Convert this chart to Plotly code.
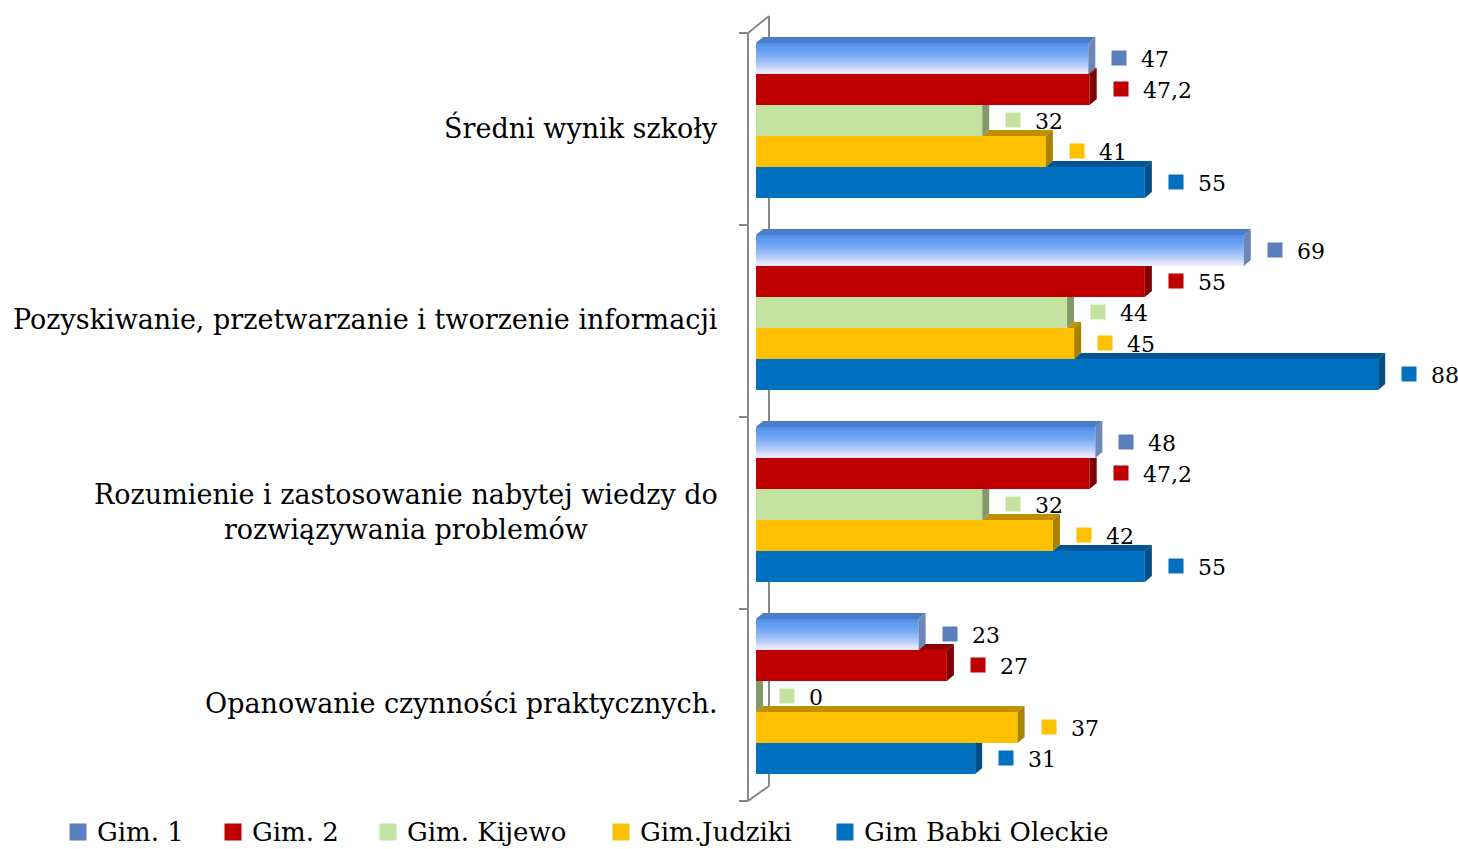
import plotly.graph_objects as go

# ---------------- data ----------------
categories = [
    "Średni wynik szkoły",
    "Pozyskiwanie, przetwarzanie i tworzenie informacji",
    "Rozumienie i zastosowanie nabytej wiedzy do<br>rozwiązywania problemów",
    "Opanowanie czynności praktycznych.",
]
series_names = ["Gim. 1", "Gim. 2", "Gim. Kijewo", "Gim.Judziki", "Gim Babki Oleckie"]
gim1 = [47, 69, 48, 23]
gim2 = [47.2, 55, 47.2, 27]
kijewo = [32, 44, 32, 0]
judziki = [41, 45, 42, 37]
babki = [55, 88, 55, 31]
series_values = [gim1, gim2, kijewo, judziki, babki]

# ---------------- styles ----------------
front_colors = ["#6FA3F0", "#C00000", "#C4E3A0", "#FFC000", "#0070C0"]
side_colors = ["#6B88B8", "#7E0000", "#82996A", "#A88300", "#004E86"]
top_colors = ["#4A7DC6", "#8E0000", "#94AD7A", "#BF9000", "#005693"]
key_colors = ["#5A80BC", "#C00000", "#C4E3A0", "#FFC000", "#0070C0"]
FONT = "DejaVu Serif"

W, H = 1458, 849
ML, MR, MT, MB = 748, 4, 6, 44
PX_PER_X = 7.07            # pixels per value unit
X0_PX = 756                # pixel of value 0
PX_PER_Y = 192.0           # pixels per category step
Y0_PX = 120.5              # pixel of first category centre
plot_w = W - ML - MR
plot_h = H - MT - MB
x_range = [(ML - X0_PX) / PX_PER_X, (W - MR - X0_PX) / PX_PER_X]
y_range = [(H - MB - Y0_PX) / PX_PER_Y, (MT - Y0_PX) / PX_PER_Y]

bar_h = 31 / PX_PER_Y
dx = 7 / PX_PER_X
dy = 6 / PX_PER_Y
n_ser = len(series_values)


def fmt(v):
    return ("%g" % v).replace(".", ",")


def lerp_color(stops, t):
    for (t0, c0), (t1, c1) in zip(stops[:-1], stops[1:]):
        if t0 <= t <= t1:
            f = (t - t0) / (t1 - t0) if t1 > t0 else 0
            c = [round(a + (b - a) * f) for a, b in zip(c0, c1)]
            return "rgb(%d,%d,%d)" % tuple(c)
    return "rgb(%d,%d,%d)" % tuple(stops[-1][1])


fig = go.Figure()
cat_idx = list(range(len(categories)))

# front faces
grad_stops = [(0.0, (80, 140, 235)), (0.45, (125, 175, 245)),
              (0.75, (185, 208, 246)), (1.0, (246, 238, 250))]
for j, vals in enumerate(series_values):
    centers = [i + (j - (n_ser - 1) / 2) * bar_h for i in cat_idx]
    if j == 0:
        N = 14
        for k in range(N):
            t = (k + 0.5) / N
            ys = [c - bar_h / 2 + t * bar_h for c in centers]
            fig.add_trace(go.Bar(
                x=vals, y=ys, orientation="h", width=bar_h / N * 1.25,
                name=series_names[j],
                marker=dict(color=lerp_color(grad_stops, t), line=dict(width=0)),
                showlegend=False, hoverinfo="skip"))
    else:
        fig.add_trace(go.Bar(
            x=vals, y=centers, orientation="h", width=bar_h, name=series_names[j],
            marker=dict(color=front_colors[j], line=dict(width=0)),
            showlegend=False, hoverinfo="skip"))

# 3D faces (top and right side), derived from the values
for j, vals in enumerate(series_values):
    tx, ty, sx, sy = [], [], [], []
    for i in cat_idx:
        v = vals[i]
        c = i + (j - (n_ser - 1) / 2) * bar_h
        yt = c - bar_h / 2
        yb = c + bar_h / 2
        u = series_values[j - 1][i] if j > 0 else None
        if u is None:
            tx += [0, v, v + dx, dx, 0, None]
            ty += [yt, yt, yt - dy, yt - dy, yt, None]
        elif v > u:
            tx += [u, v, v + dx, u + dx, u, None]
            ty += [yt, yt, yt - dy, yt - dy, yt, None]
        if u is None or v >= u:
            sx += [v, v, v + dx, v + dx, v, None]
            sy += [yb, yt, yt - dy, yb - dy, yb, None]
        else:
            sx += [v, v, v + dx, v + dx, v, None]
            sy += [yb, yt, yt, yb - dy, yb, None]
    if tx:
        fig.add_trace(go.Scatter(x=tx, y=ty, mode="lines", fill="toself",
                                 fillcolor=top_colors[j], line=dict(width=0),
                                 showlegend=False, hoverinfo="skip"))
    fig.add_trace(go.Scatter(x=sx, y=sy, mode="lines", fill="toself",
                             fillcolor=side_colors[j], line=dict(width=0),
                             showlegend=False, hoverinfo="skip"))

annotations = []
# value labels with coloured square keys
for j, vals in enumerate(series_values):
    for i in cat_idx:
        c = i + (j - (n_ser - 1) / 2) * bar_h
        annotations.append(dict(
            x=vals[i], y=c, xref="x", yref="y", text="\u00a0", showarrow=False,
            width=14, height=14, borderpad=0, bgcolor=key_colors[j],
            xanchor="left", yanchor="middle", xshift=23, yshift=1,
            font=dict(size=6)))
        annotations.append(dict(
            x=vals[i], y=c, xref="x", yref="y", text=fmt(vals[i]), showarrow=False,
            xanchor="left", yanchor="middle", xshift=51, yshift=-1,
            font=dict(family=FONT, size=22, color="#000000")))

# category labels
for i, cat in enumerate(categories):
    annotations.append(dict(
        x=0, y=i + 7 / PX_PER_Y, xref="paper", yref="y", text=cat, showarrow=False,
        xanchor="right", yanchor="middle", align="center", xshift=-28,
        font=dict(family=FONT, size=27, color="#000000")))

# legend (drawn as keys + texts along the bottom)
legend_text_px = [95, 250, 405, 638, 862]   # pixels of legend text starts
legend_y = (H - MB - 832) / plot_h
for j, name in enumerate(series_names):
    xp = (legend_text_px[j] - ML) / plot_w
    annotations.append(dict(
        x=xp, y=legend_y, xref="paper", yref="paper", text="\u00a0", showarrow=False,
        width=16, height=16, borderpad=0, bgcolor=key_colors[j],
        xanchor="left", yanchor="middle", xshift=-26, yshift=0, font=dict(size=6)))
    annotations.append(dict(
        x=xp, y=legend_y, xref="paper", yref="paper", text=name, showarrow=False,
        xanchor="left", yanchor="middle",
        font=dict(family=FONT, size=26, color="#000000")))

# 3D wall / axis frame
wall = "#878787"
back_x = (769 - ML) / plot_w
front_top = -0.5 + 8.5 / PX_PER_Y
front_bot = len(categories) - 0.5 + 8.5 / PX_PER_Y
back_top = front_top - 17 / PX_PER_Y
back_bot = front_bot - 15 / PX_PER_Y
shapes = [
    dict(type="line", xref="paper", yref="y", x0=0, x1=0, y0=front_top, y1=front_bot,
         line=dict(color=wall, width=2), layer="below"),
    dict(type="line", xref="paper", yref="y", x0=back_x, x1=back_x, y0=back_top, y1=back_bot,
         line=dict(color=wall, width=2), layer="below"),
    dict(type="line", xref="paper", yref="y", x0=0, x1=back_x, y0=front_top, y1=back_top,
         line=dict(color=wall, width=2), layer="below"),
    dict(type="line", xref="paper", yref="y", x0=0, x1=back_x, y0=front_bot, y1=back_bot,
         line=dict(color=wall, width=2), layer="below"),
]
for k in range(len(categories) + 1):
    yk = k - 0.5 + 8.5 / PX_PER_Y
    shapes.append(dict(type="line", xref="paper", yref="y", x0=-9 / plot_w, x1=0,
                       y0=yk, y1=yk, line=dict(color=wall, width=2), layer="below"))

fig.update_layout(
    width=W, height=H,
    margin=dict(l=ML, r=MR, t=MT, b=MB, pad=0),
    paper_bgcolor="white", plot_bgcolor="white",
    barmode="overlay",
    xaxis=dict(range=x_range, visible=False, fixedrange=True),
    yaxis=dict(range=y_range, visible=False, fixedrange=True),
    showlegend=False,
    annotations=annotations,
    shapes=shapes,
    hovermode=False,
)

fig.write_html(
    "out.html",
    config={"displayModeBar": False, "staticPlot": True},
    post_script="document.body.style.margin='0px';document.body.style.overflow='hidden';",
)
